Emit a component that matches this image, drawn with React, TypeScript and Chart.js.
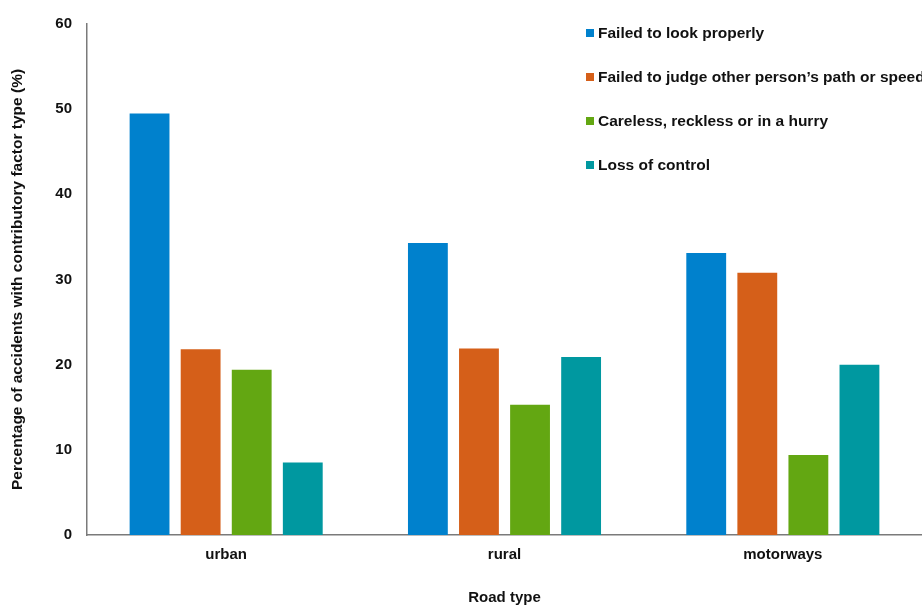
import React, { useEffect, useRef } from "react";
import { Chart, registerables } from "chart.js";

Chart.register(...registerables);

const roadTypes = ["urban", "rural", "motorways"];
const failedToLook = [49.5, 34.3, 33.1];
const failedToJudge = [21.8, 21.9, 30.8];
const carelessReckless = [19.4, 15.3, 9.4];
const lossOfControl = [8.5, 20.9, 20.0];
const seriesLabels = [
  "Failed to look properly",
  "Failed to judge other person\u2019s path or speed",
  "Careless, reckless or in a hurry",
  "Loss of control",
];
const seriesColors = ["#0081CD", "#D55F19", "#63A712", "#0098A0"];
const yTicks = [0, 10, 20, 30, 40, 50, 60];

const FONT = "'Liberation Sans', Arial, sans-serif";

// Vertical legend drawn inside the top-right of the plot area
const insideLegend = {
  id: "insideLegend",
  afterDraw(chart: any) {
    const ctx = chart.ctx;
    ctx.save();
    ctx.font = `bold 15.5px ${FONT}`;
    ctx.textBaseline = "middle";
    ctx.textAlign = "left";
    chart.data.datasets.forEach((ds: any, i: number) => {
      const y = 33 + i * 44;
      ctx.fillStyle = ds.backgroundColor;
      ctx.fillRect(586, y - 4, 8, 8);
      ctx.fillStyle = "#111111";
      ctx.fillText(ds.label, 598, y + 0.5);
    });
    ctx.restore();
  },
};

export default function App() {
  const canvasRef = useRef<HTMLCanvasElement | null>(null);

  useEffect(() => {
    document.body.style.margin = "0";
    const canvas = canvasRef.current;
    if (!canvas) return;
    const values = [failedToLook, failedToJudge, carelessReckless, lossOfControl];
    const chart = new Chart(canvas, {
      type: "bar",
      data: {
        labels: roadTypes,
        datasets: values.map((data, i) => ({
          label: seriesLabels[i],
          data,
          backgroundColor: seriesColors[i],
          borderWidth: 0,
          categoryPercentage: 0.734,
          barPercentage: 0.78,
        })),
      },
      plugins: [insideLegend],
      options: {
        responsive: false,
        animation: false,
        layout: { padding: { top: 21, right: 0, bottom: 0, left: 0 } },
        plugins: {
          legend: { display: false },
          tooltip: { enabled: false },
        },
        scales: {
          x: {
            grid: { display: false, drawTicks: false },
            border: { display: true, color: "#7a7a7a", width: 1.5 },
            ticks: {
              color: "#111111",
              font: { family: FONT, size: 15, weight: "bold" },
              padding: 11,
            },
            title: {
              display: true,
              text: "Road type",
              color: "#111111",
              font: { family: FONT, size: 15, weight: "bold" },
              padding: { top: 0, bottom: 0 },
            },
            afterFit(scale: any) {
              scale.height = 72;
            },
          },
          y: {
            min: 0,
            max: 60,
            grid: { display: false, drawTicks: false },
            border: { display: true, color: "#7a7a7a", width: 1.5 },
            afterBuildTicks(scale: any) {
              scale.ticks = yTicks.map((v) => ({ value: v }));
            },
            ticks: {
              color: "#111111",
              font: { family: FONT, size: 15, weight: "bold" },
              padding: 15,
            },
            title: {
              display: true,
              text: "Percentage of accidents with contributory factor type (%)",
              color: "#111111",
              font: { family: FONT, size: 15.5, weight: "bold" },
              padding: { top: 8, bottom: 0 },
            },
            afterFit(scale: any) {
              scale.width = 87;
            },
          },
        },
      },
    });
    return () => chart.destroy();
  }, []);

  return (
    <div style={{ width: 922, height: 607, background: "#ffffff" }}>
      <canvas ref={canvasRef} width={922} height={607} style={{ display: "block" }} />
    </div>
  );
}
